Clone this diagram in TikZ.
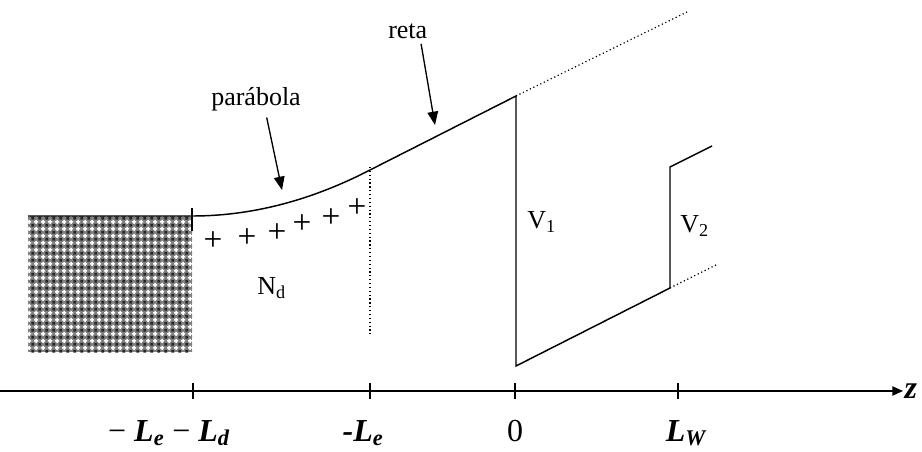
\documentclass[tikz,border=0pt]{standalone}
\usepackage{fontspec}
\setmainfont{Liberation Serif}
\usetikzlibrary{arrows.meta,patterns}

% white crosses on a dark ground, as in the shaded region
\pgfdeclarepatternformonly{wovencross}{\pgfpointorigin}{\pgfpoint{5pt}{5pt}}
    {\pgfpoint{5pt}{5pt}}{
    \pgfsetlinewidth{1.1pt}
    \pgfpathmoveto{\pgfpoint{0.9pt}{2.5pt}}\pgfpathlineto{\pgfpoint{4.1pt}{2.5pt}}
    \pgfpathmoveto{\pgfpoint{2.5pt}{0.9pt}}\pgfpathlineto{\pgfpoint{2.5pt}{4.1pt}}
    \pgfusepath{stroke}
}
\pgfdeclarepatternformonly{wovenknot}{\pgfpointorigin}{\pgfpoint{5pt}{5pt}}
    {\pgfpoint{5pt}{5pt}}{
    \pgfpathrectangle{\pgfpoint{-0.8pt}{-0.8pt}}{\pgfpoint{1.6pt}{1.6pt}}
    \pgfpathrectangle{\pgfpoint{4.2pt}{-0.8pt}}{\pgfpoint{1.6pt}{1.6pt}}
    \pgfpathrectangle{\pgfpoint{-0.8pt}{4.2pt}}{\pgfpoint{1.6pt}{1.6pt}}
    \pgfpathrectangle{\pgfpoint{4.2pt}{4.2pt}}{\pgfpoint{1.6pt}{1.6pt}}
    \pgfusepath{fill}
}

\begin{document}
\begin{tikzpicture}[
        x=0.75pt, y=-0.75pt,
        font=\fontsize{19.5}{23}\selectfont,
        curve/.style={line width=1.1pt},
        guide/.style={dotted, line width=0.9pt},
        pointer/.style={-{Triangle[length=10pt,width=8pt]}, line width=1pt},
        axisline/.style={-{Triangle[length=8pt,width=7pt]}, line width=1pt},
        tickmark/.style={line width=0.9pt},
        txt/.style={inner sep=0pt, anchor=base west},
        charge/.style={inner sep=0pt, font=\fontsize{25}{28}\selectfont},
        axislabel/.style={inner sep=0pt, anchor=base,
            font=\fontsize{24}{28}\selectfont\bfseries\itshape}
    ]
    \useasboundingbox (0,0) rectangle (922,451);

    % region with fixed charge
    \fill[black!50] (28,216) rectangle (192,352);
    \fill[pattern=wovenknot, pattern color=black!85] (28,216) rectangle (192,352);
    \fill[pattern=wovencross, pattern color=white] (28,216) rectangle (192,352);

    \coordinate (left) at (28,216);
    \coordinate (Ld) at (192,216);
    \coordinate (Le) at (370,170);
    \coordinate (top0) at (516,96);
    \coordinate (bot0) at (516,366);
    \coordinate (botW) at (670,288);
    \coordinate (topW) at (670,167);
    \coordinate (endW) at (712,146);
    \coordinate (farTop) at (687,12);
    \coordinate (farW) at (718,264);

    \draw[curve] (left) -- (Ld)
        -- plot[domain=192:370, samples=40] (\x, {216-46*((\x-192)/178)^2});
    \draw[curve] (Le) -- (top0) -- (bot0) -- (botW) -- (topW) -- (endW);
    \draw[guide] (top0) -- (farTop);
    \draw[guide] (botW) -- (farW);
    \draw[guide] (370,167) -- (370,336);
    \draw[tickmark] (192,208) -- (192,231);

    \foreach \px/\py in {213/241, 247/238, 277/233, 302/224, 331/218, 357/208}
        \node[charge] (plus\px) at (\px,\py) {+};

    \node[txt] (Nd) at (257,294) {N\textsubscript{d}};
    \node[txt] (V1) at (527,228) {V\textsubscript{1}};
    \node[txt] (V2) at (680,232) {V\textsubscript{2}};

    \node[txt] (reta) at (388,38) {reta};
    \node[txt] (parabola) at (211,105) {parábola};
    \coordinate (retaTip) at (435,125);
    \coordinate (parabolaTip) at (282,190);
    \draw[pointer] ([xshift=10pt, yshift=-4pt]reta.south) -- (retaTip);
    \draw[pointer] ([xshift=8pt, yshift=-5pt]parabola.south) -- (parabolaTip);

    % z axis
    \coordinate (zstart) at (0,391);
    \node[anchor=west, inner sep=1pt, font=\fontsize{24}{28}\selectfont\bfseries\itshape]
        (zlabel) at (903,391) {z};
    \draw[axisline] (zstart) -- (zlabel.west);
    \foreach \tx in {193, 370, 515, 678}
        \draw[tickmark] (\tx,383) -- (\tx,399);

    \node[axislabel] (lblLeLd) at (169,441)
        {{\normalfont −} L\textsubscript{e} {\normalfont −} L\textsubscript{d}};
    \node[axislabel] (lblLe) at (363,441) {-L\textsubscript{e}};
    \node[axislabel, font=\fontsize{24}{28}\selectfont] (lblzero) at (515,441) {0};
    \node[axislabel] (lblLW) at (686,441) {L\textsubscript{W}};
\end{tikzpicture}
\end{document}
